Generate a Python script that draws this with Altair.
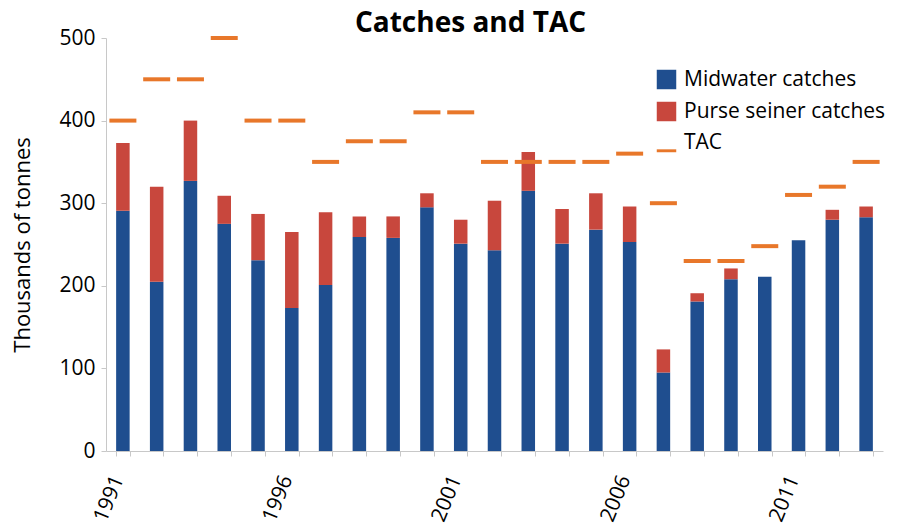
import altair as alt
import pandas as pd

years = list(range(1991, 2014))
midwater = [291, 205, 327, 275, 231, 173, 201, 259, 258, 295, 251, 243, 315, 251, 268, 253, 95, 181, 208, 211, 255, 280, 283]
purse = [82, 115, 73, 34, 56, 92, 88, 25, 26, 17, 29, 60, 47, 42, 44, 43, 28, 10, 13, 0, 0, 12, 13]
tac = [400, 450, 450, 500, 400, 400, 350, 375, 375, 410, 410, 350, 350, 350, 350, 360, 300, 230, 230, 248, 310, 320, 350]
label_years = ["1991", "1996", "2001", "2006", "2011"]

series_names = ["Midwater catches", "Purse seiner catches"]
bar_colors = ["#1F4E8F", "#C8473D"]
tac_color = "#E8772A"
FONT = "Open Sans"

rows = []
for i, y in enumerate(years):
    rows.append({"year": str(y), "series": series_names[0], "value": midwater[i], "ord": 0})
    rows.append({"year": str(y), "series": series_names[1], "value": purse[i], "ord": 1})
bars_df = pd.DataFrame(rows)
tac_df = pd.DataFrame({"year": [str(y) for y in years], "tac": tac, "series": ["TAC"] * len(years)})

label_expr = "indexof(" + str(label_years) + ", datum.label) >= 0 ? datum.label : ''"

x_enc = alt.X(
    "year:N",
    sort=None,
    scale=alt.Scale(paddingInner=0.6, paddingOuter=0.3),
    axis=alt.Axis(
        title=None,
        labelExpr=label_expr,
        labelAngle=-68,
        labelFontSize=21,
        labelFont=FONT,
        labelColor="#000000",
        labelPadding=20,
        labelOffset=-5,
        tickBand="extent",
        tickSize=5,
        tickColor="#C8C8C8",
        domainColor="#C8C8C8",
        grid=False,
    ),
)

bars = alt.Chart(bars_df).mark_bar().encode(
    x=x_enc,
    y=alt.Y(
        "value:Q",
        stack="zero",
        scale=alt.Scale(domain=[0, 500]),
        axis=alt.Axis(
            title="Thousands of tonnes",
            titleFont=FONT,
            titleFontSize=22,
            titleFontWeight="normal",
            titleColor="#000000",
            titlePadding=24,
            values=[0, 100, 200, 300, 400, 500],
            labelFontSize=21,
            labelFont=FONT,
            labelColor="#000000",
            labelPadding=6,
            tickSize=5,
            tickColor="#C8C8C8",
            domainColor="#C8C8C8",
            grid=False,
        ),
    ),
    color=alt.Color(
        "series:N",
        scale=alt.Scale(domain=series_names, range=bar_colors),
        legend=alt.Legend(
            title=None,
            orient="none",
            legendX=550,
            legendY=31,
            symbolType="square",
            symbolSize=380,
            symbolStrokeWidth=0,
            labelFont=FONT,
            labelFontSize=21,
            labelColor="#000000",
            labelOffset=7,
            labelLimit=400,
            rowPadding=10,
        ),
    ),
    order=alt.Order("ord:Q"),
)

ticks = alt.Chart(tac_df).mark_tick(size=27, thickness=4, opacity=1).encode(
    x=alt.X("year:N", sort=None),
    y=alt.Y("tac:Q"),
    color=alt.Color(
        "series:N",
        scale=alt.Scale(domain=["TAC"], range=[tac_color]),
        legend=alt.Legend(
            title=None,
            orient="none",
            legendX=550,
            legendY=94,
            symbolType="M-1,0.7L1,0.7L1,1L-1,1Z",
            symbolSize=380,
            symbolStrokeWidth=0,
            symbolFillColor="#F5A623",
            symbolOpacity=1,
            labelFont=FONT,
            labelFontSize=21,
            labelColor="#000000",
            labelOffset=7,
            labelLimit=400,
        ),
    ),
)

chart = (
    alt.layer(bars, ticks)
    .resolve_scale(color="independent")
    .properties(
        width=777,
        height=413,
        background="white",
        padding={"left": 98, "top": 30, "right": 6, "bottom": 80},
        autosize=alt.AutoSizeParams(type="none"),
        title=alt.TitleParams(
            "Catches and TAC",
            font=FONT,
            fontSize=28,
            fontWeight="bold",
            color="#000000",
            anchor="middle",
            dx=-24,
            offset=-11,
        ),
    )
    .configure_view(stroke=None, strokeWidth=0)
)

chart.save("out.html", embed_options={"renderer": "svg", "actions": False})
